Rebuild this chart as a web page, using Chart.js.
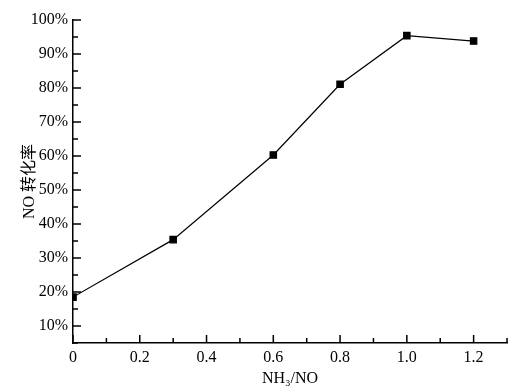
<!DOCTYPE html>
<html>
<head>
<meta charset="utf-8">
<script src="https://cdn.jsdelivr.net/npm/chart.js@4"></script>
<style>
  html, body { margin: 0; padding: 0; background: #fff; }
  #wrap { width: 518px; height: 391px; }
</style>
</head>
<body>
<div id="wrap"><canvas id="chart" width="518" height="391"></canvas></div>
<script>
const ratios = [0, 0.3, 0.6, 0.8, 1.0, 1.2];
const conversion = [18.5, 35.4, 60.3, 81.1, 95.4, 93.8];
const xTitle = 'NH\u2083/NO';
const yTitle = 'NO 转化率';

const fontFamily = "'Liberation Serif', 'Noto Sans CJK SC', serif";

// ticks pointing into the plot, like the original
const innerTicks = {
    id: 'innerTicks',
    afterDraw(chart) {
        const ctx = chart.ctx;
        const xs = chart.scales.x, ys = chart.scales.y;
        ctx.save();
        ctx.strokeStyle = '#000';
        ctx.lineWidth = 1.5;
        ctx.beginPath();
        for (let i = 0; i <= 13; i++) {
            const px = xs.getPixelForValue(i / 10);
            const len = i % 2 === 0 ? 8 : 5;
            ctx.moveTo(px, ys.bottom);
            ctx.lineTo(px, ys.bottom - len);
        }
        for (let v = 5; v <= 100; v += 5) {
            const py = ys.getPixelForValue(v);
            const len = v % 10 === 0 ? 8 : 5;
            ctx.moveTo(xs.left, py);
            ctx.lineTo(xs.left + len, py);
        }
        ctx.stroke();
        ctx.restore();
    }
};

new Chart(document.getElementById('chart'), {
    type: 'line',
    data: {
        datasets: [{
            data: ratios.map((r, i) => ({ x: r, y: conversion[i] })),
            borderColor: '#000',
            backgroundColor: '#000',
            borderWidth: 1.2,
            pointStyle: 'rect',
            pointRadius: 4.5,
            pointHoverRadius: 4.5,
            tension: 0
        }]
    },
    options: {
        responsive: false,
        animation: false,
        layout: { padding: { top: 20, right: 11 } },
        plugins: { legend: { display: false }, tooltip: { enabled: false } },
        scales: {
            x: {
                type: 'linear',
                min: 0,
                max: 1.3,
                grid: { display: false, drawTicks: false },
                border: { color: '#000', width: 1.5 },
                ticks: {
                    stepSize: 0.1,
                    color: '#000',
                    padding: 5,
                    maxRotation: 0,
                    autoSkip: false,
                    font: { family: fontFamily, size: 16 },
                    callback: v => {
                        const k = Math.round(v * 10);
                        if (k % 2 !== 0) return '';
                        return k === 0 ? '0' : (k / 10).toFixed(1);
                    }
                },
                title: {
                    display: true,
                    text: xTitle,
                    color: '#000',
                    padding: { top: 2, bottom: 3 },
                    font: { family: fontFamily, size: 16 }
                },
                afterFit: s => { s.height = 48; }
            },
            y: {
                min: 5,
                max: 100,
                grid: { display: false, drawTicks: false },
                border: { color: '#000', width: 1.5 },
                ticks: {
                    stepSize: 5,
                    color: '#000',
                    padding: 5,
                    autoSkip: false,
                    font: { family: fontFamily, size: 16 },
                    callback: v => (Math.round(v) % 10 === 0 ? Math.round(v) + '%' : '')
                },
                title: {
                    display: true,
                    text: yTitle,
                    color: '#000',
                    padding: { top: 20, bottom: 0 },
                    font: { family: fontFamily, size: 16 }
                },
                afterFit: s => { s.width = 73; }
            }
        }
    },
    plugins: [innerTicks]
});
</script>
</body>
</html>
